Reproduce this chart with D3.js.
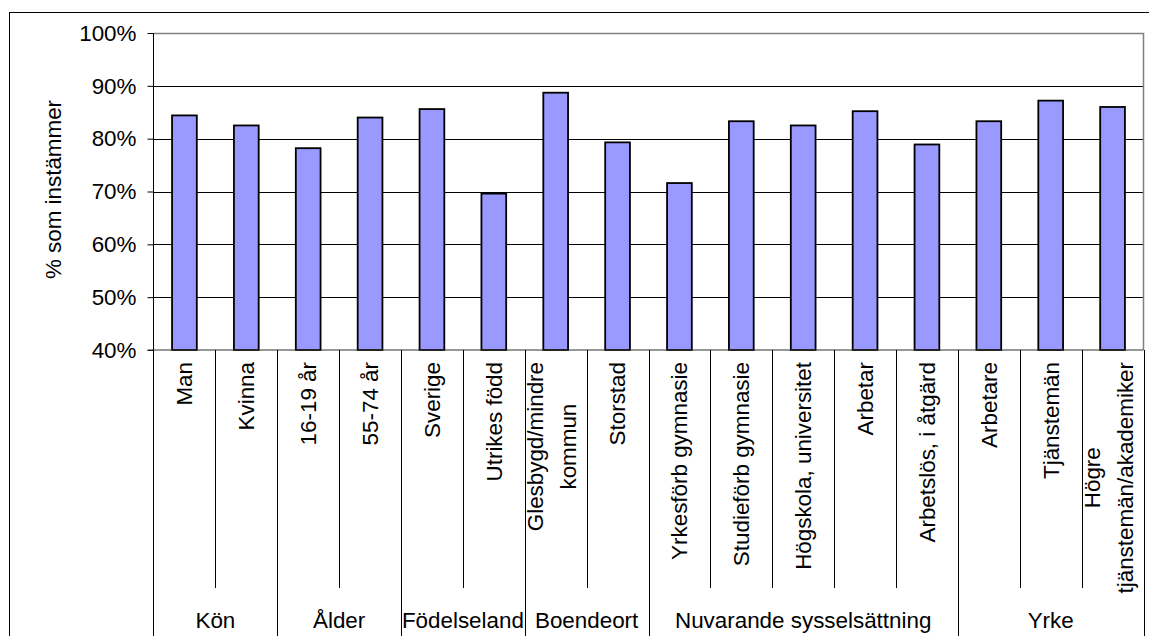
<!DOCTYPE html>
<html>
<head>
<meta charset="utf-8">
<script src="https://cdn.jsdelivr.net/npm/d3@7"></script>
<style>
  html, body { margin: 0; padding: 0; background: #fff; }
  svg { display: block; }
  text { font-family: "Liberation Sans", Arial, sans-serif; fill: #000; }
</style>
</head>
<body>
<svg id="svg" width="1149" height="636"></svg>
<script>
// --- Data ---
const categories = [
    'Man', 'Kvinna', '16-19 år', '55-74 år', 'Sverige', 'Utrikes född',
    'Glesbygd/mindre\nkommun', 'Storstad', 'Yrkesförb gymnasie', 'Studieförb gymnasie',
    'Högskola, universitet', 'Arbetar', 'Arbetslös, i åtgärd', 'Arbetare', 'Tjänstemän',
    'Högre\ntjänstemän/akademiker'
];
const values = [84.4, 82.5, 78.2, 84.0, 85.6, 69.6, 88.7, 79.3, 71.6, 83.3, 82.5, 85.2, 78.9, 83.3, 87.2, 86.0];
const groupNames = ['Kön', 'Ålder', 'Födelseland', 'Boendeort', 'Nuvarande sysselsättning', 'Yrke'];
const groupSizes = [2, 2, 2, 2, 5, 3];
const yTicks = [40, 50, 60, 70, 80, 90, 100];
const yTitle = '% som instämmer';

// --- Layout ---
const W = 1149, H = 636;
const plot = { left: 153.5, right: 1143.5, top: 33, bottom: 350 };
const FONT = 22.4;

const svg = d3.select('#svg');

const y = d3.scaleLinear().domain([40, 100]).range([plot.bottom, plot.top]);
const slot = d3.scaleBand().domain(d3.range(categories.length)).range([plot.left, plot.right]);
const xBar = d3.scaleBand().domain(d3.range(categories.length))
    .range([plot.left, plot.right]).paddingInner(0.6).paddingOuter(0.3);

// outer frame (runs off the right and bottom edge)
svg.append('rect')
    .attr('x', 9.5).attr('y', 12.5)
    .attr('width', W + 20).attr('height', H + 20)
    .attr('fill', 'none').attr('stroke', '#000').attr('stroke-width', 1);

// --- Gridlines ---
svg.append('g')
    .selectAll('line')
    .data(yTicks.filter(t => t > 40 && t < 100))
    .join('line')
    .attr('x1', plot.left).attr('x2', plot.right)
    .attr('y1', d => Math.round(y(d)) + 0.5).attr('y2', d => Math.round(y(d)) + 0.5)
    .attr('stroke', '#000').attr('stroke-width', 1);

// plot area top/right border
svg.append('path')
    .attr('d', `M${plot.left},${plot.top + 0.5}H${plot.right}V${plot.bottom}`)
    .attr('fill', 'none').attr('stroke', '#808080').attr('stroke-width', 1.5);

// --- Y axis ---
const yAxis = d3.axisLeft(y)
    .tickValues(yTicks)
    .tickSize(6)
    .tickPadding(11)
    .tickFormat(d => d + '%');

const yG = svg.append('g')
    .attr('transform', `translate(${plot.left},0)`)
    .call(yAxis);
yG.select('.domain').remove();
yG.selectAll('.tick line').attr('stroke', '#000');
yG.selectAll('.tick text')
    .attr('font-size', FONT + 'px')
    .attr('font-family', '"Liberation Sans", Arial, sans-serif')
    .attr('fill', '#000');

svg.append('text')
    .attr('transform', `translate(61,${(plot.top + plot.bottom) / 2 - 2}) rotate(-90)`)
    .attr('text-anchor', 'middle')
    .attr('font-size', FONT + 'px')
    .text(yTitle);

// --- Bars ---
svg.append('g')
    .selectAll('rect')
    .data(values)
    .join('rect')
    .attr('x', (d, i) => xBar(i))
    .attr('y', d => y(d))
    .attr('width', xBar.bandwidth())
    .attr('height', d => y(40) - y(d))
    .attr('fill', '#9999FF')
    .attr('stroke', '#000')
    .attr('stroke-width', 1.8);

// bottom axis line
svg.append('line')
    .attr('x1', plot.left - 6).attr('x2', plot.right)
    .attr('y1', plot.bottom).attr('y2', plot.bottom)
    .attr('stroke', '#333').attr('stroke-width', 1.2);

// left axis line (runs down to the bottom of the picture)
svg.append('line')
    .attr('x1', plot.left).attr('x2', plot.left)
    .attr('y1', plot.top).attr('y2', H)
    .attr('stroke', '#000').attr('stroke-width', 1);

// --- Category separators ---
const groupEnds = d3.cumsum(groupSizes);
const seps = d3.range(1, categories.length + 1).map(i => ({
    x: i < categories.length ? slot(i) : plot.right,
    full: groupEnds.includes(i)
}));

svg.append('g')
    .selectAll('line')
    .data(seps)
    .join('line')
    .attr('x1', d => Math.round(d.x) + 0.5).attr('x2', d => Math.round(d.x) + 0.5)
    .attr('y1', plot.bottom)
    .attr('y2', d => d.full ? H : 588)
    .attr('stroke', '#000').attr('stroke-width', 1);

// --- Category labels (rotated) ---
const labelTop = 362;
const lineH = 33.5;

const labels = svg.append('g')
    .selectAll('g')
    .data(categories)
    .join('g');

labels.each(function (label, i) {
    const lines = label.split('\n');
    const n = lines.length;
    const shift = n > 1 ? -4 : 0;
    const cx = slot(i) + slot.bandwidth() / 2 + shift;
    const g = d3.select(this).attr('transform', `translate(${cx},${labelTop}) rotate(-90)`);
    const texts = g.selectAll('text')
        .data(lines)
        .join('text')
        .attr('font-size', FONT + 'px')
        .attr('text-anchor', 'middle')
        .attr('y', (d, j) => (j - (n - 1) / 2) * lineH)
        .attr('dy', '0.35em')
        .text(d => d);
    const maxLen = d3.max(texts.nodes(), t => t.getComputedTextLength());
    texts.attr('x', -maxLen / 2);
});

// --- Group labels ---
let start = 0;
const groupCenters = groupSizes.map(s => {
    const a = slot(start);
    const b = start + s < categories.length ? slot(start + s) : plot.right;
    start += s;
    return (a + b) / 2;
});

svg.append('g')
    .selectAll('text')
    .data(groupNames)
    .join('text')
    .attr('x', (d, i) => groupCenters[i])
    .attr('y', 627.5)
    .attr('text-anchor', 'middle')
    .attr('font-size', FONT + 'px')
    .text(d => d);
</script>
</body>
</html>
